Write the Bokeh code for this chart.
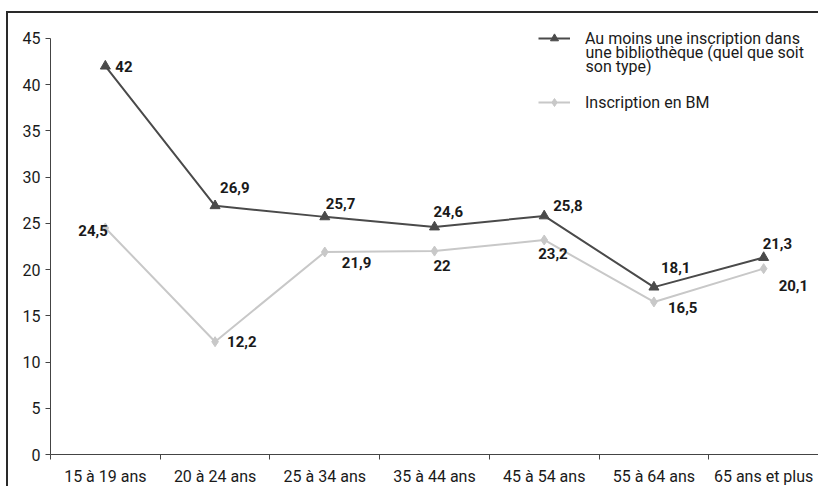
from bokeh.plotting import figure
from bokeh.models import (Range1d, FixedTicker, Legend, LegendItem, ColumnDataSource, Label)
from bokeh.embed import file_html
from bokeh.resources import INLINE
from bokeh.core.properties import value

# ---- data ----
categories = ["15 à 19 ans", "20 à 24 ans", "25 à 34 ans", "35 à 44 ans",
              "45 à 54 ans", "55 à 64 ans", "65 ans et plus"]
au_moins_une = [42, 26.9, 25.7, 24.6, 25.8, 18.1, 21.3]
inscription_bm = [24.5, 12.2, 21.9, 22, 23.2, 16.5, 20.1]
y_ticks = [0, 5, 10, 15, 20, 25, 30, 35, 40, 45]
series_name_lines = ["Au moins une inscription dans",
                     "une bibliothèque (quel que soit",
                     "son type)"]
series_name_bm = "Inscription en BM"

# ---- label offsets (pixels, styling) ----
dark_dx = [10, 5, 1, -1, 9, 7, -1]
dark_dy = [0, -18, -13, -16, -10, -20, -14]
light_dx = [-27, 12, 17, -1, -6, 14, 15]
light_dy = [3, 0, 10, 14, 14, 6, 17]

FONT = "Roboto"
DARK = "#4a4a4a"
LIGHT = "#c8c8c8"
TXT = "#1a1a1a"

# frame geometry: axis 0..45 spans 418 px, frame extends 18 px above the 45 tick
Y_MAX = 45
Y_TOP = Y_MAX * 436 / 418


def fmt(v):
    return f"{v:g}".replace(".", ",")


xs = list(range(len(categories)))
src_dark = ColumnDataSource(dict(x=xs, y=au_moins_une, lbl=[fmt(v) for v in au_moins_une],
                                 dx=dark_dx, dy=dark_dy))
src_light = ColumnDataSource(dict(x=xs, y=inscription_bm, lbl=[fmt(v) for v in inscription_bm],
                                  dx=light_dx, dy=light_dy))

p = figure(width=812, height=475, output_backend="svg", toolbar_location=None,
           x_range=Range1d(-0.5, len(categories) - 0.5), y_range=Range1d(0, Y_TOP),
           min_border_left=42, min_border_right=2, min_border_top=7, min_border_bottom=32)
p.styles = {"margin-left": "6px", "margin-top": "11px",
            "border-left": "2px solid #2a2a2a", "border-top": "2px solid #2a2a2a"}
p.outline_line_color = None
p.xgrid.visible = False
p.ygrid.visible = False
p.background_fill_color = "white"

# lines + markers
l1 = p.line("x", "y", source=src_light, line_color=LIGHT, line_width=2)
m1 = p.scatter("x", "y", source=src_light, marker="diamond", size=10, fill_color=LIGHT, line_color=LIGHT)
l2 = p.line("x", "y", source=src_dark, line_color=DARK, line_width=2)
m2 = p.scatter("x", "y", source=src_dark, marker="triangle", size=10, fill_color=DARK, line_color=DARK)

# data labels
for src in (src_dark, src_light):
    p.text("x", "y", text="lbl", source=src, x_offset="dx", y_offset="dy",
           text_font=value(FONT), text_font_style="bold", text_font_size="15px",
           text_color=TXT, text_align="left", text_baseline="middle")

# y axis
ya = p.yaxis[0]
ya.ticker = FixedTicker(ticks=y_ticks)
ya.bounds = (0, Y_MAX)
ya.axis_line_color = "#444"
ya.major_tick_line_color = "#444"
ya.major_tick_out = 5
ya.major_tick_in = 0
ya.minor_tick_line_color = None
ya.major_label_text_font = FONT
ya.major_label_text_font_size = "16px"
ya.major_label_text_color = TXT
ya.major_label_standoff = 5

# x axis: labels at centers, ticks at boundaries
xa = p.xaxis[0]
xa.ticker = FixedTicker(ticks=xs, minor_ticks=[i - 0.5 for i in range(len(categories) + 1)])
xa.major_label_overrides = {i: c for i, c in enumerate(categories)}
xa.axis_line_color = "#444"
xa.major_tick_line_color = None
xa.major_tick_out = 0
xa.major_tick_in = 0
xa.minor_tick_line_color = "#444"
xa.minor_tick_out = 5
xa.minor_tick_in = 0
xa.major_label_text_font = FONT
xa.major_label_text_font_size = "16px"
xa.major_label_text_color = TXT
xa.major_label_standoff = 7

# legend
legend = Legend(items=[LegendItem(label=series_name_lines[0], renderers=[l2, m2]),
                       LegendItem(label=series_name_bm, renderers=[l1, m1])],
                location=(488, 342), orientation="vertical",
                padding=0, margin=0, spacing=44, border_line_color=None,
                background_fill_alpha=0, glyph_width=32, glyph_height=20, label_height=20,
                label_standoff=15, label_text_font=FONT, label_text_font_size="16px",
                label_text_color=TXT)
p.add_layout(legend, "center")
for i, line in enumerate(series_name_lines[1:]):
    p.add_layout(Label(x=535, y=402.5 - 14 * i, x_units="screen", y_units="screen",
                       text=line, text_font=FONT, text_font_size="16px",
                       text_color=TXT, text_baseline="alphabetic", text_align="left"))

open("out.html", "w").write(file_html(p, INLINE))
